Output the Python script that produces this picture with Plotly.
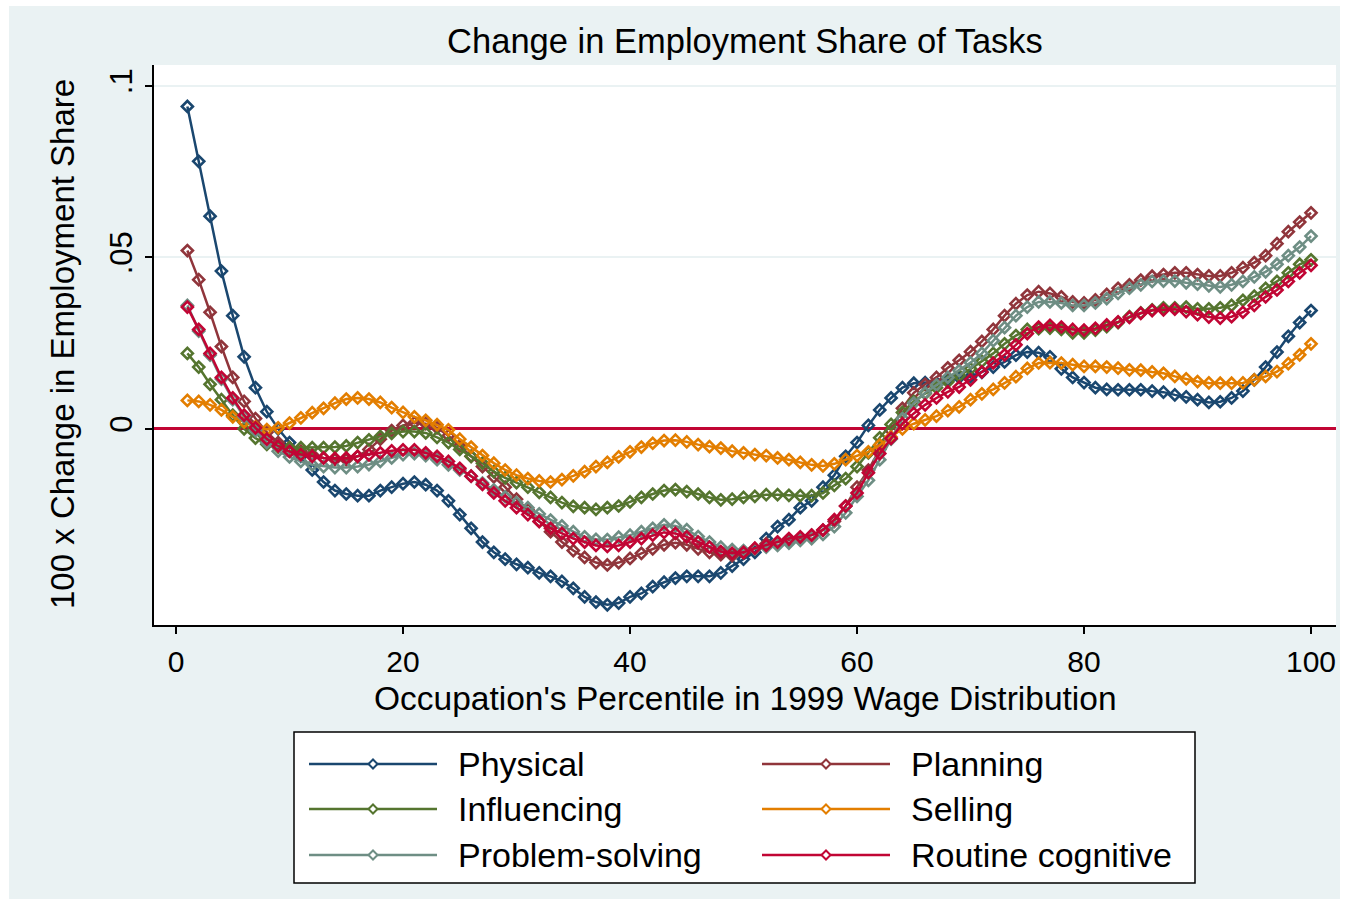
import plotly.graph_objects as go

# ---------------- data ----------------
x_pct = list(range(1, 101))

series_names = ["Physical", "Planning", "Influencing", "Selling",
                "Problem-solving", "Routine cognitive"]
series_colors = ["#1A476F", "#90353B", "#55752F", "#E37E00", "#6E8E84", "#C10534"]

physical = [0.094, 0.078, 0.062, 0.046, 0.033, 0.021, 0.012, 0.005, 0.0, -0.004,
            -0.008, -0.012, -0.0155, -0.018, -0.019, -0.0195, -0.0195, -0.018, -0.017, -0.016,
            -0.0155, -0.0163, -0.018, -0.021, -0.025, -0.029, -0.033, -0.036, -0.038, -0.0395,
            -0.0405, -0.042, -0.043, -0.0445, -0.0465, -0.049, -0.0505, -0.0513, -0.0508, -0.049,
            -0.048, -0.046, -0.0447, -0.0435, -0.043, -0.043, -0.043, -0.042, -0.040, -0.038,
            -0.036, -0.032, -0.0285, -0.0265, -0.023, -0.021, -0.017, -0.0135, -0.008, -0.004,
            0.001, 0.0055, 0.009, 0.012, 0.0133, 0.0135, 0.0133, 0.0142, 0.015, 0.0152,
            0.0165, 0.018, 0.0195, 0.0215, 0.0224, 0.0222, 0.021, 0.0175, 0.015, 0.0135,
            0.012, 0.0115, 0.0114, 0.0114, 0.0114, 0.011, 0.0107, 0.0099, 0.0093, 0.0085,
            0.0077, 0.0079, 0.009, 0.011, 0.0143, 0.018, 0.0224, 0.027, 0.031, 0.0345]

planning = [0.052, 0.0435, 0.034, 0.024, 0.015, 0.008, 0.003, -0.001, -0.004, -0.0055,
            -0.0065, -0.0075, -0.0085, -0.009, -0.009, -0.008, -0.006, -0.003, -0.0005, 0.001,
            0.0018, 0.0015, 0.0003, -0.002, -0.005, -0.008, -0.011, -0.014, -0.017, -0.0205,
            -0.0235, -0.027, -0.030, -0.033, -0.0355, -0.0375, -0.039, -0.0397, -0.039, -0.0378,
            -0.0363, -0.035, -0.0338, -0.0332, -0.0338, -0.035, -0.036, -0.0367, -0.037, -0.0362,
            -0.035, -0.0335, -0.033, -0.0325, -0.032, -0.031, -0.0295, -0.027, -0.0225, -0.017,
            -0.012, -0.006, -0.0005, 0.006, 0.0105, 0.013, 0.015, 0.0178, 0.020, 0.0225,
            0.0255, 0.029, 0.033, 0.0365, 0.039, 0.040, 0.0395, 0.0385, 0.037, 0.0367,
            0.0376, 0.0392, 0.041, 0.042, 0.0434, 0.0445, 0.045, 0.0455, 0.0455, 0.045,
            0.0446, 0.0446, 0.0455, 0.047, 0.0485, 0.0505, 0.054, 0.0575, 0.0603, 0.063]

influencing = [0.022, 0.018, 0.013, 0.0085, 0.004, 0.0, -0.0027, -0.0045, -0.0053, -0.0055,
               -0.0055, -0.0055, -0.0055, -0.0053, -0.005, -0.004, -0.0032, -0.0022, -0.0013, -0.0008,
               -0.0008, -0.0012, -0.0025, -0.004, -0.006, -0.008, -0.010, -0.0125, -0.0143, -0.0157,
               -0.017, -0.0185, -0.020, -0.0215, -0.0226, -0.023, -0.0235, -0.023, -0.0225, -0.0213,
               -0.020, -0.019, -0.018, -0.0177, -0.0183, -0.019, -0.020, -0.0207, -0.0205, -0.020,
               -0.0197, -0.0192, -0.0192, -0.0194, -0.0195, -0.0195, -0.0187, -0.0165, -0.0145, -0.011,
               -0.007, -0.0026, 0.0013, 0.0048, 0.008, 0.0103, 0.012, 0.0137, 0.0155, 0.0175,
               0.0197, 0.022, 0.0248, 0.0272, 0.029, 0.0292, 0.0294, 0.029, 0.028, 0.028,
               0.0288, 0.0298, 0.031, 0.0327, 0.0338, 0.0347, 0.0353, 0.0353, 0.0355, 0.035,
               0.035, 0.0353, 0.036, 0.0375, 0.0387, 0.041, 0.043, 0.0455, 0.048, 0.0493]

selling = [0.0083, 0.008, 0.007, 0.0055, 0.0035, 0.002, 0.0006, -0.0002, 0.0003, 0.0017,
           0.0032, 0.0047, 0.006, 0.0075, 0.0087, 0.009, 0.0087, 0.0077, 0.0062, 0.0048,
           0.0035, 0.0025, 0.0012, -0.0003, -0.003, -0.0053, -0.0078, -0.010, -0.012, -0.0135,
           -0.0145, -0.0152, -0.0155, -0.0148, -0.0137, -0.0125, -0.011, -0.0098, -0.0082, -0.0067,
           -0.0053, -0.0042, -0.0034, -0.0033, -0.0038, -0.0046, -0.0052, -0.0056, -0.0065, -0.007,
           -0.0075, -0.0078, -0.0085, -0.009, -0.0098, -0.0105, -0.0108, -0.0102, -0.009, -0.0078,
           -0.0067, -0.0047, -0.0024, 0.0, 0.0015, 0.0026, 0.0037, 0.0053, 0.0064, 0.0085,
           0.0102, 0.0115, 0.0134, 0.0152, 0.0176, 0.0192, 0.0193, 0.0192, 0.0187, 0.0182,
           0.0182, 0.018, 0.0177, 0.0172, 0.0171, 0.0166, 0.0162, 0.0153, 0.0146, 0.0138,
           0.0134, 0.0133, 0.0133, 0.0134, 0.0143, 0.0153, 0.0167, 0.019, 0.0216, 0.0248]

problem_solving = [0.036, 0.0285, 0.0215, 0.0145, 0.0085, 0.0035, -0.0005, -0.004, -0.0065, -0.0082,
                   -0.0095, -0.0105, -0.011, -0.0113, -0.0113, -0.011, -0.0104, -0.0095, -0.0085, -0.0075,
                   -0.0072, -0.0078, -0.009, -0.0105, -0.012, -0.0138, -0.0158, -0.0178, -0.0198, -0.0215,
                   -0.023, -0.0248, -0.0266, -0.0283, -0.030, -0.0315, -0.0322, -0.0323, -0.0316, -0.031,
                   -0.030, -0.029, -0.028, -0.0283, -0.0294, -0.0314, -0.033, -0.0345, -0.0352, -0.0355,
                   -0.035, -0.0345, -0.034, -0.0333, -0.0325, -0.032, -0.0308, -0.0285, -0.0245, -0.0197,
                   -0.015, -0.009, -0.003, 0.003, 0.0075, 0.0105, 0.0128, 0.015, 0.017, 0.0193,
                   0.022, 0.0257, 0.0295, 0.033, 0.0355, 0.037, 0.037, 0.0367, 0.036, 0.036,
                   0.0367, 0.038, 0.0395, 0.041, 0.042, 0.043, 0.0431, 0.0431, 0.0426, 0.0422,
                   0.0417, 0.0414, 0.042, 0.043, 0.0443, 0.0458, 0.048, 0.0505, 0.053, 0.0562]

routine_cognitive = [0.0355, 0.029, 0.022, 0.015, 0.009, 0.004, 0.0003, -0.003, -0.005, -0.0066,
                     -0.0075, -0.008, -0.0085, -0.0086, -0.0085, -0.008, -0.0076, -0.007, -0.0064, -0.0061,
                     -0.0061, -0.007, -0.008, -0.0095, -0.0115, -0.0138, -0.0162, -0.0187, -0.021, -0.023,
                     -0.025, -0.027, -0.029, -0.0305, -0.032, -0.033, -0.034, -0.0343, -0.034, -0.033,
                     -0.032, -0.031, -0.0302, -0.0305, -0.0315, -0.033, -0.0345, -0.0358, -0.0363, -0.036,
                     -0.0348, -0.034, -0.033, -0.032, -0.0315, -0.031, -0.0295, -0.0265, -0.0225, -0.0187,
                     -0.0128, -0.0072, -0.0028, 0.0015, 0.0045, 0.007, 0.009, 0.0108, 0.0122, 0.0143,
                     0.0166, 0.0192, 0.0216, 0.0245, 0.0278, 0.0297, 0.0302, 0.0297, 0.029, 0.0288,
                     0.0293, 0.0303, 0.0312, 0.0325, 0.0337, 0.0345, 0.0347, 0.0349, 0.0342, 0.0333,
                     0.0326, 0.0323, 0.0327, 0.034, 0.036, 0.0385, 0.0405, 0.043, 0.0455, 0.0477]

x_ticks = [0, 20, 40, 60, 80, 100]
y_ticks = [0, 0.05, 0.1]
y_tick_text = ["0", ".05", ".1"]

title_text = "Change in Employment Share of Tasks"
x_title = "Occupation's Percentile in 1999 Wage Distribution"
y_title = "100 x Change in Employment Share"

all_series = [physical, planning, influencing, selling, problem_solving, routine_cognitive]

# ---------------- layout helpers ----------------
W, H = 1347, 906
L, R, T, B = 154, 1336, 65, 625
FONT = "Liberation Sans, Arial, sans-serif"
BG = "#EAF2F3"


def px_x(px):
    return (px - L) / (R - L)


def px_y(py):
    return (B - py) / (B - T)


fig = go.Figure()
for name, color, vals in zip(series_names, series_colors, all_series):
    fig.add_trace(go.Scatter(
        x=x_pct, y=vals, name=name, mode="lines+markers",
        line=dict(color=color, width=2.5),
        marker=dict(symbol="diamond-open", size=8.5, color=color,
                    line=dict(width=2.6, color=color)),
        showlegend=False,
    ))

shapes = []
annotations = []

# white outer border
for (x0, x1, y0, y1) in [(0, 9, 0, H), (1340, W, 0, H), (0, W, 0, 6), (0, W, 899, H)]:
    shapes.append(dict(type="rect", xref="paper", yref="paper",
                       x0=px_x(x0), x1=px_x(x1), y0=px_y(y1), y1=px_y(y0),
                       fillcolor="white", line=dict(width=0), layer="above"))

# legend box
shapes.append(dict(type="rect", xref="paper", yref="paper",
                   x0=px_x(294), x1=px_x(1195), y0=px_y(883), y1=px_y(732),
                   fillcolor="white", line=dict(color="black", width=1.5)))

col_line = [(309, 437, 373, 456), (762, 890, 826, 909)]
row_y = [764, 809, 855]
for i, (name, color) in enumerate(zip(series_names, series_colors)):
    lx0, lx1, mx, tx = col_line[i % 2]
    ry = row_y[i // 2]
    shapes.append(dict(type="line", xref="paper", yref="paper",
                       x0=px_x(lx0), x1=px_x(lx1), y0=px_y(ry), y1=px_y(ry),
                       line=dict(color=color, width=2.4)))
    shapes.append(dict(type="path", xref="paper", yref="paper",
                       xsizemode="pixel", ysizemode="pixel",
                       xanchor=px_x(mx), yanchor=px_y(ry),
                       path="M -4.5 0 L 0 4.5 L 4.5 0 L 0 -4.5 Z",
                       fillcolor="white", line=dict(color=color, width=2)))
    annotations.append(dict(text=name, xref="paper", yref="paper",
                            x=px_x(tx), y=px_y(ry), xanchor="left", yanchor="middle",
                            showarrow=False, font=dict(family=FONT, size=34, color="black")))

annotations.append(dict(text=x_title, xref="paper", yref="paper",
                        x=px_x(745.5), y=px_y(698), xanchor="center", yanchor="middle",
                        showarrow=False, font=dict(family=FONT, size=33.5, color="black")))
annotations.append(dict(text=y_title, xref="paper", yref="paper",
                        x=px_x(62), y=px_y(344), xanchor="center", yanchor="middle",
                        textangle=-90, showarrow=False,
                        font=dict(family=FONT, size=33, color="black")))

fig.update_layout(
    width=W, height=H,
    margin=dict(l=L, r=W - R, t=T, b=H - B, pad=0),
    paper_bgcolor=BG, plot_bgcolor="white",
    title=dict(text=title_text, x=px_x(745), xref="paper", xanchor="center",
               y=1 - 41 / H, yref="container", yanchor="middle",
               font=dict(family=FONT, size=34.5, color="black")),
    font=dict(family=FONT, color="black"),
    shapes=shapes, annotations=annotations,
    showlegend=False,
)

fig.update_xaxes(range=[-1.94, 102.2], tickvals=x_ticks, ticks="outside", ticklen=7,
                 tickwidth=2, tickcolor="black", showline=True, linecolor="black", linewidth=2,
                 showgrid=False, zeroline=False, tickfont=dict(family=FONT, size=30, color="black"),
                 ticklabelstandoff=2)
fig.update_yaxes(range=[-0.0572, 0.1061], tickvals=y_ticks, ticktext=y_tick_text,
                 tickangle=-90, ticks="outside", ticklen=7, tickwidth=2, tickcolor="black",
                 showline=True, linecolor="black", linewidth=2,
                 showgrid=True, gridcolor=BG, gridwidth=2,
                 zeroline=True, zerolinecolor="#C10534", zerolinewidth=2.5,
                 tickfont=dict(family=FONT, size=31, color="black"), ticklabelstandoff=1)

fig.write_html("out.html", config={"displayModeBar": False},
               post_script="document.body.style.margin='0';document.body.style.padding='0';")
